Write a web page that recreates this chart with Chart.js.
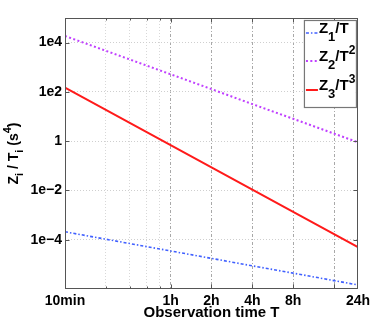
<!DOCTYPE html>
<html><head><meta charset="utf-8">
<script src="https://cdn.jsdelivr.net/npm/chart.js@4"></script>
<style>html,body{margin:0;padding:0;background:#fff}#wrap{width:374px;height:327px}</style>
</head><body><div id="wrap"><canvas id="c" width="374" height="327"></canvas></div>
<script>
// Observation times in seconds
const times = [600, 3600, 7200, 14400, 28800, 86400];
// Series values
const z1 = [2.1e-4, 3.5e-5, 1.75e-5, 8.7e-6, 4.4e-6, 1.46e-6];
const z2 = [1.87e4, 520, 130, 32, 8.1, 0.9];
const z3 = [150, 0.69, 0.087, 0.0108, 1.35e-3, 5e-5];
// Tick definitions
const xTickValues = [600, 3600, 7200, 14400, 28800, 86400];
const xTickLabels = ['10min', '1h', '2h', '4h', '8h', '24h'];
const xGridMinor = [1200, 1800, 2400, 3000];
const xGridMajor = [3600, 7200, 14400, 28800, 57600];
const yTickValues = [1e-4, 1e-2, 1, 1e2, 1e4];
const yTickLabels = ['1e\u22124', '1e\u22122', '1', '1e2', '1e4'];
// Legend label parts: main, subscript, rest, superscript
const legendMain = ['Z', 'Z', 'Z'];
const legendSub = ['1', '2', '3'];
const legendRest = ['/T', '/T', '/T'];
const legendSup = ['', '2', '3'];
const seriesNames = ['Z1/T', 'Z2/T^2', 'Z3/T^3'];

const FONT = '"Liberation Sans", Arial, Helvetica, sans-serif';
const toPts = arr => times.map((t, i) => ({x: t, y: arr[i]}));

const xAllTicks = Array.from(new Set([...xTickValues, ...xGridMinor, ...xGridMajor])).sort((a, b) => a - b);

const framePlugin = {
  id: 'frame',
  afterDatasetsDraw(chart) {
    const {ctx, chartArea: a, scales: {x, y}} = chart;
    ctx.save();
    ctx.strokeStyle = '#555';
    ctx.lineWidth = 1;
    const L = Math.round(a.left) + 0.5, R = Math.round(a.right) - 0.5;
    const T = Math.round(a.top) + 0.5, B = Math.round(a.bottom) - 0.5;
    ctx.strokeRect(L, T, R - L, B - T);
    ctx.beginPath();
    xAllTicks.forEach(v => {
      if (v === 600 || v === 86400) return;
      const len = xGridMinor.includes(v) ? 2 : 4;
      const px = Math.round(x.getPixelForValue(v)) + 0.5;
      ctx.moveTo(px, B); ctx.lineTo(px, B - len);
      ctx.moveTo(px, T); ctx.lineTo(px, T + len);
    });
    yTickValues.forEach(v => {
      const py = Math.round(y.getPixelForValue(v)) + 0.5;
      ctx.moveTo(L, py); ctx.lineTo(L + 4, py);
      ctx.moveTo(R, py); ctx.lineTo(R - 4, py);
    });
    ctx.stroke();
    ctx.restore();
  },
  afterDraw(chart) {
    const {ctx, chartArea: a} = chart;
    // Legend
    ctx.save();
    const bx = a.right - 54, by = a.top + 2, bw = 52, bh = 87;
    ctx.fillStyle = '#fff';
    ctx.fillRect(bx, by, bw, bh);
    ctx.strokeStyle = '#777';
    ctx.lineWidth = 1.2;
    ctx.strokeRect(bx + 0.5, by + 0.5, bw, bh);
    const baselines = [by + 13, by + 41, by + 70];
    chart.data.datasets.forEach((ds, i) => {
      const yb = baselines[i];
      ctx.save();
      ctx.strokeStyle = ds.borderColor;
      ctx.lineWidth = ds.borderWidth;
      ctx.setLineDash(ds.borderDash || []);
      ctx.beginPath();
      ctx.moveTo(bx + 2, yb); ctx.lineTo(bx + 14, yb);
      ctx.stroke();
      ctx.restore();
      ctx.fillStyle = '#000';
      ctx.textBaseline = 'alphabetic';
      ctx.textAlign = 'left';
      let tx = bx + 15;
      ctx.font = 'bold 15px ' + FONT;
      ctx.fillText(legendMain[i], tx, yb); tx += ctx.measureText(legendMain[i]).width;
      ctx.font = 'bold 13px ' + FONT;
      ctx.fillText(legendSub[i], tx, yb + 8); tx += ctx.measureText(legendSub[i]).width;
      ctx.font = 'bold 15px ' + FONT;
      ctx.fillText(legendRest[i], tx, yb); tx += ctx.measureText(legendRest[i]).width;
      if (legendSup[i]) {
        ctx.font = 'bold 12px ' + FONT;
        ctx.fillText(legendSup[i], tx, yb - 7);
      }
    });
    ctx.restore();

    // Y axis title with sub/superscripts
    ctx.save();
    const parts = [
      {t: 'Z', s: 14, o: 0}, {t: 'i', s: 11, o: 5}, {t: ' / T', s: 14, o: 0},
      {t: 'i', s: 11, o: 5}, {t: ' (s', s: 14, o: 0}, {t: '4', s: 11, o: -7}, {t: ')', s: 14, o: 0}
    ];
    let total = 0;
    parts.forEach(p => { ctx.font = 'bold ' + p.s + 'px ' + FONT; p.w = ctx.measureText(p.t).width; total += p.w; });
    ctx.translate(18, (a.top + a.bottom) / 2);
    ctx.rotate(-Math.PI / 2);
    ctx.fillStyle = '#000';
    ctx.textBaseline = 'alphabetic';
    ctx.textAlign = 'left';
    let px = -total / 2;
    parts.forEach(p => { ctx.font = 'bold ' + p.s + 'px ' + FONT; ctx.fillText(p.t, px, p.o); px += p.w; });
    ctx.restore();
  }
};

new Chart(document.getElementById('c'), {
  type: 'line',
  data: {
    datasets: [
      {label: seriesNames[0], data: toPts(z1), borderColor: '#4060ff', borderWidth: 1.6, borderDash: [3, 2, 1.5, 2], pointRadius: 0, fill: false},
      {label: seriesNames[1], data: toPts(z2), borderColor: '#c040ff', borderWidth: 2, borderDash: [2, 2.4], pointRadius: 0, fill: false},
      {label: seriesNames[2], data: toPts(z3), borderColor: '#ff1a1a', borderWidth: 2, borderDash: [], pointRadius: 0, fill: false}
    ]
  },
  options: {
    responsive: false,
    animation: false,
    devicePixelRatio: 1,
    layout: {padding: {top: 18, right: 15, left: 0, bottom: 0}},
    plugins: {legend: {display: false}, tooltip: {enabled: false}},
    scales: {
      x: {
        type: 'logarithmic', min: 600, max: 86400,
        afterBuildTicks: s => { s.ticks = xAllTicks.map(v => ({value: v})); },
        afterFit: s => { s.height = 38; },
        ticks: {
          autoSkip: false, maxRotation: 0, minRotation: 0, padding: 4, color: '#000',
          font: {family: FONT, size: 14, weight: 'bold'},
          callback: v => { const i = xTickValues.indexOf(v); return i >= 0 ? xTickLabels[i] : ''; }
        },
        grid: {
          drawTicks: false, lineWidth: 1,
          color: c => {
            const v = c.tick && c.tick.value;
            if (xGridMinor.includes(v)) return '#d8d8d8';
            if (xGridMajor.includes(v)) return '#a8a8a8';
            return 'rgba(0,0,0,0)';
          }
        },
        border: {
          display: false,
          dash: c => { const v = c.tick && c.tick.value; return xGridMinor.includes(v) ? [1, 2] : [3, 2, 1, 2]; }
        },
        title: {display: true, text: 'Observation time T', color: '#000', font: {family: FONT, size: 15, weight: 'bold'}, padding: {top: 0, bottom: 5}}
      },
      y: {
        type: 'logarithmic', min: 1e-6, max: 1e5,
        afterBuildTicks: s => { s.ticks = yTickValues.map(v => ({value: v})); },
        afterFit: s => { s.width = 65; },
        ticks: {
          autoSkip: false, padding: 3, color: '#000',
          font: {family: FONT, size: 14, weight: 'bold'},
          callback: v => { const i = yTickValues.indexOf(v); return i >= 0 ? yTickLabels[i] : ''; }
        },
        grid: {drawTicks: false, lineWidth: 1, color: '#cfcfcf'},
        border: {display: false, dash: [1, 2]},
        title: {display: false}
      }
    }
  },
  plugins: [framePlugin]
});
</script>
</body></html>
